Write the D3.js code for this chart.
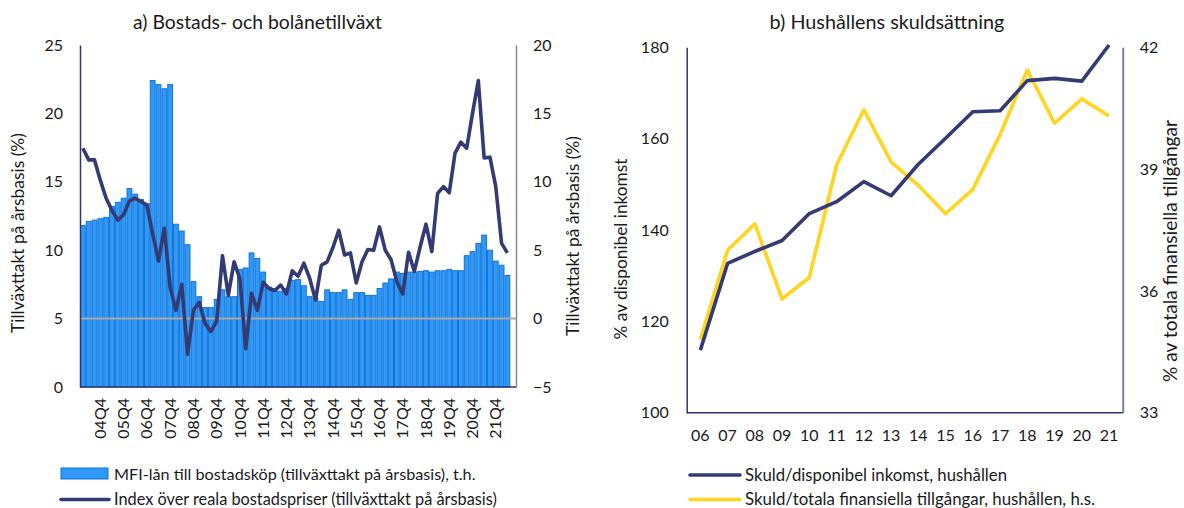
<!DOCTYPE html>
<html>
<head>
<meta charset="utf-8">
<script src="https://cdn.jsdelivr.net/npm/d3@7"></script>
<style>
  html, body { margin: 0; padding: 0; background: #fff; }
  svg text { font-family: Lato, "Open Sans", sans-serif; fill: #1a1a1a; }
</style>
</head>
<body>
<svg id="chart" width="1184" height="508"></svg>
<script>
// ---- Panel a: quarterly growth, 04Q1–22Q2 ----
const quarters = [
  "04Q1","04Q2","04Q3","04Q4","05Q1","05Q2","05Q3","05Q4","06Q1","06Q2","06Q3","06Q4",
  "07Q1","07Q2","07Q3","07Q4","08Q1","08Q2","08Q3","08Q4","09Q1","09Q2","09Q3","09Q4",
  "10Q1","10Q2","10Q3","10Q4","11Q1","11Q2","11Q3","11Q4","12Q1","12Q2","12Q3","12Q4",
  "13Q1","13Q2","13Q3","13Q4","14Q1","14Q2","14Q3","14Q4","15Q1","15Q2","15Q3","15Q4",
  "16Q1","16Q2","16Q3","16Q4","17Q1","17Q2","17Q3","17Q4","18Q1","18Q2","18Q3","18Q4",
  "19Q1","19Q2","19Q3","19Q4","20Q1","20Q2","20Q3","20Q4","21Q1","21Q2","21Q3","21Q4",
  "22Q1","22Q2"
];
// MFI lending for house purchase, annual growth (%), left axis
const mfiLoans = [
  11.8, 12.1, 12.2, 12.3, 12.4, 13.2, 13.5, 13.8, 14.5, 14.1, 13.7, 13.4,
  22.4, 22.1, 21.8, 22.1, 11.9, 11.4, 10.4, 7.7, 6.6, 5.8, 5.8, 6.4,
  7.1, 6.6, 6.6, 8.6, 8.7, 9.8, 9.4, 8.4, 7.3, 7.2, 7.0, 7.2,
  7.8, 7.85, 7.4, 6.6, 6.5, 6.25, 7.1, 6.9, 6.9, 7.1, 6.4, 6.9,
  6.9, 6.7, 6.7, 7.2, 7.6, 7.9, 8.4, 8.3, 8.4, 8.4, 8.45, 8.5,
  8.4, 8.5, 8.5, 8.6, 8.5, 8.5, 9.6, 9.9, 10.5, 11.1, 10.0, 9.2,
  8.9, 8.15
];
// Real house price index, annual growth (%), right axis
const housePrices = [
  12.45, 11.6, 11.6, 10.1, 8.8, 7.9, 7.2, 7.6, 8.6, 8.8, 8.55, 8.3,
  6.2, 4.2, 6.6, 2.3, 0.6, 2.5, -2.6, 0.6, 1.2, -0.35, -0.95, -0.2,
  4.6, 1.7, 4.15, 2.9, -2.2, 1.85, 0.6, 2.65, 2.2, 2.05, 2.45, 1.8,
  3.5, 3.1, 4.05, 2.95, 1.35, 3.9, 4.15, 5.2, 6.45, 4.65, 4.8, 2.6,
  4.15, 5.05, 5.0, 6.7, 5.0, 4.3, 2.7, 1.8, 4.85, 3.45, 5.25, 6.9,
  4.9, 9.15, 9.65, 9.2, 12.1, 12.9, 12.45, 15.0, 17.4, 11.75, 11.8, 9.65,
  5.5, 4.8
];
const leftTicksA = [0, 5, 10, 15, 20, 25];
const rightTicksA = [-5, 0, 5, 10, 15, 20];

// ---- Panel b: household indebtedness, 2006–2021 ----
const years = ["06","07","08","09","10","11","12","13","14","15","16","17","18","19","20","21"];
const debtToIncome = [113.7, 132.7, 135.3, 137.7, 143.6, 146.2, 150.6, 147.5, 154.4, 160.1, 165.9, 166.1, 172.7, 173.2, 172.6, 180.5];
const debtToAssets = [34.8, 37.0, 37.65, 35.8, 36.33, 39.1, 40.46, 39.18, 38.6, 37.9, 38.5, 39.85, 41.44, 40.13, 40.73, 40.31];
const leftTicksB = [100, 120, 140, 160, 180];
const rightTicksB = [33, 36, 39, 42];

const C = {
  bar: "#3198F7",
  barEdge: "#0E74D8",
  navy: "#333A74",
  yellow: "#FFD520",
  zero: "#A8A8A8",
  axisDark: "#2E3470",
  axisGray: "#8A8A8A",
  axisPurple: "#7C7DA3"
};

const svg = d3.select("#chart");
const FS = 16;

// scale a text's font size so that it spans the given width
function fitWidth(sel, width) {
  const base = 16;
  sel.style("font-size", base + "px");
  const len = sel.node().getComputedTextLength();
  sel.style("font-size", (base * width / len).toFixed(2) + "px");
  return sel;
}

// ================= Panel a =================
const A = { left: 80, right: 516, top: 45, bottom: 387, barsEnd: 510.3 };
const xA = d3.scaleBand().domain(quarters).range([A.left, A.barsEnd]).padding(0);
const yA = d3.scaleLinear().domain([0, 25]).range([A.bottom, A.top]);
const yA2 = d3.scaleLinear().domain([-5, 20]).range([A.bottom, A.top]);

const gA = svg.append("g");

gA.append("g").selectAll("rect").data(mfiLoans).join("rect")
  .attr("x", (d, i) => xA(quarters[i]) + 0.5)
  .attr("y", d => yA(d))
  .attr("width", xA.bandwidth() - 1)
  .attr("height", d => yA(0) - yA(d))
  .attr("fill", C.bar)
  .attr("stroke", C.barEdge)
  .attr("stroke-width", 1);

// zero line of the right axis
gA.append("line")
  .attr("x1", A.left).attr("x2", A.right)
  .attr("y1", yA2(0)).attr("y2", yA2(0))
  .attr("stroke", C.zero).attr("stroke-width", 2);

gA.append("path")
  .datum(housePrices)
  .attr("fill", "none")
  .attr("stroke", C.navy)
  .attr("stroke-width", 3.6)
  .attr("stroke-linejoin", "round")
  .attr("d", d3.line()
    .x((d, i) => xA(quarters[i]) + xA.bandwidth() / 2)
    .y(d => yA2(d)));

// axes
const axLeftA = gA.append("g").attr("transform", `translate(${A.left},0)`)
  .call(d3.axisLeft(yA).tickValues(leftTicksA).tickSize(0).tickPadding(17));
axLeftA.select(".domain").attr("stroke", C.axisDark).attr("stroke-width", 1.5);

const axRightA = gA.append("g").attr("transform", `translate(${A.right},0)`)
  .call(d3.axisRight(yA2).tickValues(rightTicksA).tickSize(0).tickPadding(17).tickFormat(d3.format("d")));
axRightA.select(".domain").attr("stroke", C.axisGray).attr("stroke-width", 1.5);

const axBottomA = gA.append("g").attr("transform", `translate(0,${A.bottom})`)
  .call(d3.axisBottom(xA).tickValues(quarters.filter(q => q.endsWith("Q4"))).tickSize(0));
axBottomA.select(".domain").attr("stroke", C.axisDark).attr("stroke-width", 1.5)
  .attr("d", `M${A.left},0H${A.right}`);

[axLeftA, axRightA, axBottomA].forEach(g => g.selectAll("text")
  .style("font-family", "Lato, sans-serif").style("font-size", FS + "px").attr("fill", "#1a1a1a"));
axBottomA.selectAll(".tick text")
  .attr("transform", "rotate(-90)")
  .attr("text-anchor", "end")
  .attr("x", -11).attr("y", 0).attr("dy", "0.35em");

fitWidth(gA.append("text").attr("x", 257.5).attr("y", 29).attr("text-anchor", "middle")
  .text("a) Bostads- och bolånetillväxt"), 249);
fitWidth(gA.append("text").attr("transform", "translate(24,233) rotate(-90)").attr("text-anchor", "middle")
  .text("Tillväxttakt på årsbasis (%)"), 200);
fitWidth(gA.append("text").attr("transform", "translate(579,236) rotate(-90)").attr("text-anchor", "middle")
  .text("Tillväxttakt på årsbasis (%)"), 200);

// legend a
const lgA = svg.append("g");
lgA.append("rect").attr("x", 61).attr("y", 468).attr("width", 47).attr("height", 11)
  .attr("fill", C.bar).attr("stroke", C.barEdge).attr("stroke-width", 1);
fitWidth(lgA.append("text").attr("x", 114).attr("y", 474).attr("dy", "0.35em")
  .text("MFI-lån till bostadsköp (tillväxttakt på årsbasis), t.h."), 362);
lgA.append("line").attr("x1", 61).attr("x2", 109).attr("y1", 499.5).attr("y2", 499.5)
  .attr("stroke", C.navy).attr("stroke-width", 3.6).attr("stroke-linecap", "round");
fitWidth(lgA.append("text").attr("x", 114).attr("y", 499).attr("dy", "0.35em")
  .text("Index över reala bostadspriser (tillväxttakt på årsbasis)"), 383);

// ================= Panel b =================
const B = { left: 686.7, right: 1122.7, top: 47.3, bottom: 412.7 };
const xB = d3.scaleBand().domain(years).range([B.left, B.right]).padding(0);
const yB = d3.scaleLinear().domain([100, 180]).range([B.bottom, B.top]);
const yB2 = d3.scaleLinear().domain([33, 42]).range([B.bottom, B.top]);

const gB = svg.append("g");

gB.append("path").datum(debtToAssets)
  .attr("fill", "none").attr("stroke", C.yellow).attr("stroke-width", 3.6)
  .attr("stroke-linejoin", "round")
  .attr("d", d3.line().x((d, i) => xB(years[i]) + xB.bandwidth() / 2).y(d => yB2(d)));

gB.append("path").datum(debtToIncome)
  .attr("fill", "none").attr("stroke", C.navy).attr("stroke-width", 3.6)
  .attr("stroke-linejoin", "round")
  .attr("d", d3.line().x((d, i) => xB(years[i]) + xB.bandwidth() / 2).y(d => yB(d)));

const axLeftB = gB.append("g").attr("transform", `translate(${B.left},0)`)
  .call(d3.axisLeft(yB).tickValues(leftTicksB).tickSize(0).tickPadding(18));
axLeftB.select(".domain").attr("stroke", C.axisDark).attr("stroke-width", 1.5);

const axRightB = gB.append("g").attr("transform", `translate(${B.right},0)`)
  .call(d3.axisRight(yB2).tickValues(rightTicksB).tickSize(0).tickPadding(17));
axRightB.select(".domain").attr("stroke", C.axisPurple).attr("stroke-width", 2);

const axBottomB = gB.append("g").attr("transform", `translate(0,${B.bottom})`)
  .call(d3.axisBottom(xB).tickSize(0).tickPadding(17));
axBottomB.select(".domain").attr("stroke", C.axisDark).attr("stroke-width", 1.5)
  .attr("d", `M${B.left},0H${B.right}`);

[axLeftB, axRightB, axBottomB].forEach(g => g.selectAll("text")
  .style("font-family", "Lato, sans-serif").style("font-size", FS + "px").attr("fill", "#1a1a1a"));

fitWidth(gB.append("text").attr("x", 887).attr("y", 29).attr("text-anchor", "middle")
  .text("b) Hushållens skuldsättning"), 235);
fitWidth(gB.append("text").attr("transform", "translate(627,249) rotate(-90)").attr("text-anchor", "middle")
  .text("% av disponibel inkomst"), 181);
fitWidth(gB.append("text").attr("transform", "translate(1177,251) rotate(-90)").attr("text-anchor", "middle")
  .text("% av totala finansiella tillgångar"), 262);

// legend b
const lgB = svg.append("g");
lgB.append("line").attr("x1", 690).attr("x2", 740).attr("y1", 475).attr("y2", 475)
  .attr("stroke", C.navy).attr("stroke-width", 3.6).attr("stroke-linecap", "round");
fitWidth(lgB.append("text").attr("x", 745).attr("y", 475).attr("dy", "0.35em")
  .text("Skuld/disponibel inkomst, hushållen"), 262);
lgB.append("line").attr("x1", 690).attr("x2", 740).attr("y1", 499.5).attr("y2", 499.5)
  .attr("stroke", C.yellow).attr("stroke-width", 3.6).attr("stroke-linecap", "round");
fitWidth(lgB.append("text").attr("x", 745).attr("y", 499).attr("dy", "0.35em")
  .text("Skuld/totala finansiella tillgångar, hushållen, h.s."), 350);
</script>
</body>
</html>
